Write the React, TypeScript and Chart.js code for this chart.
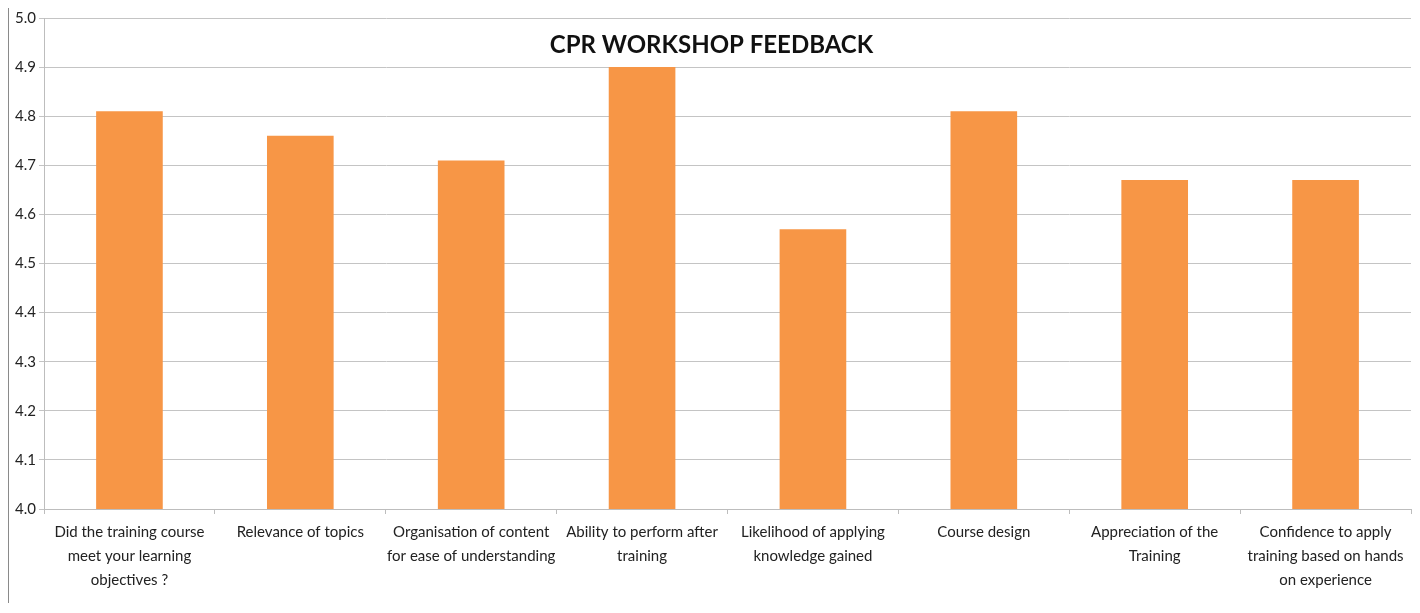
import React, { useEffect, useRef } from "react";
import { Chart, registerables } from "chart.js";

Chart.register(...registerables);

const TITLE = "CPR WORKSHOP FEEDBACK";
const categories: string[][] = [
  ["Did the training course", "meet your learning", "objectives ?"],
  ["Relevance of topics"],
  ["Organisation of content", "for ease of understanding"],
  ["Ability to perform after", "training"],
  ["Likelihood of applying", "knowledge gained"],
  ["Course design"],
  ["Appreciation of the", "Training"],
  ["Confidence to apply", "training based on hands", "on experience"],
];
const scores = [4.81, 4.76, 4.71, 4.9, 4.57, 4.81, 4.67, 4.67];
const yMin = 4.0;
const yMax = 5.0;
const yStep = 0.1;

const FONT = "Lato, 'Liberation Sans', sans-serif";

const titlePlugin = {
  id: "insideTitle",
  afterDraw(chart: any) {
    const { ctx, chartArea } = chart;
    ctx.save();
    ctx.font = `bold 24px ${FONT}`;
    ctx.fillStyle = "#111";
    ctx.textAlign = "center";
    ctx.textBaseline = "middle";
    ctx.fillText(TITLE, (chartArea.left + chartArea.right) / 2 - 16, chartArea.top + 27);
    ctx.restore();
  },
};

export default function App() {
  const ref = useRef<HTMLCanvasElement | null>(null);
  useEffect(() => {
    if (!ref.current) return;
    const chart = new Chart(ref.current, {
      type: "bar",
      data: {
        labels: categories,
        datasets: [
          {
            data: scores,
            backgroundColor: "#F79646",
            borderWidth: 0,
            barPercentage: 0.39,
            categoryPercentage: 1,
          },
        ],
      },
      options: {
        animation: false,
        responsive: false,
        maintainAspectRatio: false,
        layout: { padding: { top: 11, right: 4, left: 0, bottom: 0 } },
        plugins: { legend: { display: false }, title: { display: false }, tooltip: { enabled: false } },
        scales: {
          x: {
            offset: true,
            grid: {
              offset: true,
              drawOnChartArea: false,
              drawTicks: true,
              tickLength: 5,
              color: "#bdbdbd",
            },
            border: { color: "#bdbdbd", width: 1 },
            ticks: {
              color: "#222",
              font: { family: FONT, size: 15, lineHeight: 1.6 },
              maxRotation: 0,
              minRotation: 0,
              autoSkip: false,
              padding: 6,
            },
            afterFit(scale: any) {
              scale.height = 94;
              scale.paddingLeft = 0;
              scale.paddingRight = 0;
            },
          },
          y: {
            min: yMin,
            max: yMax,
            grid: { color: "#c4c4c4", tickLength: 5, lineWidth: 1 },
            border: { color: "#bdbdbd", width: 1 },
            ticks: {
              stepSize: yStep,
              color: "#222",
              font: { family: FONT, size: 15 },
              padding: 3,
              callback: (v: any) => Number(v).toFixed(1),
            },
            afterFit(scale: any) {
              scale.width = 35;
              scale.paddingTop = 0;
              scale.paddingBottom = 0;
            },
          },
        },
      },
      plugins: [titlePlugin],
    });
    return () => chart.destroy();
  }, []);
  return (
    <div
      style={{
        width: 1408,
        height: 597,
        borderLeft: "1px solid #8a8a8a",
        borderTop: "1px solid #8a8a8a",
        borderRight: "1px solid #8a8a8a",
        boxSizing: "border-box",
        background: "#fff",
        marginTop: -2,
      }}
    >
      <canvas ref={ref} width={1406} height={596} style={{ display: "block" }} />
    </div>
  );
}
